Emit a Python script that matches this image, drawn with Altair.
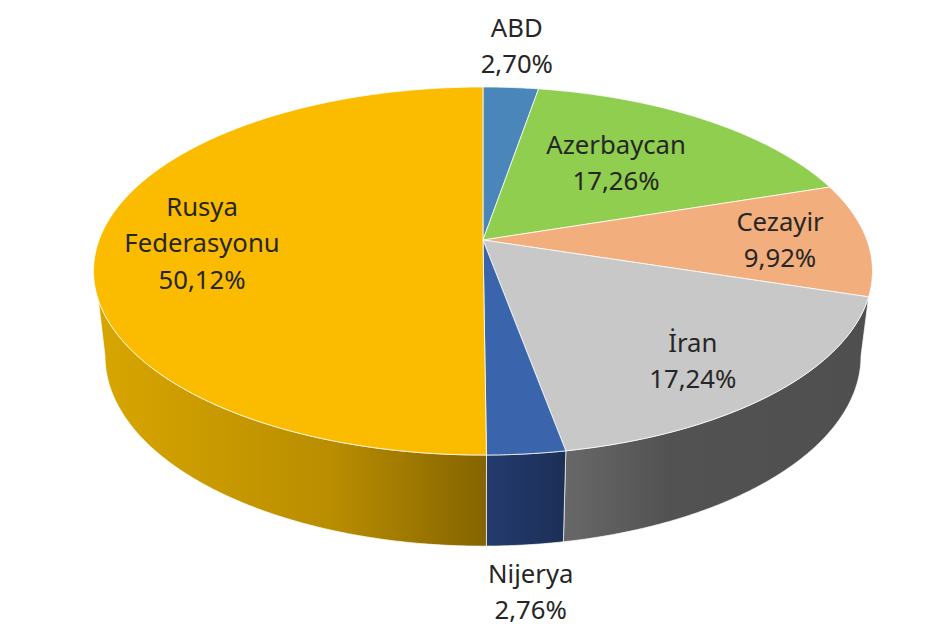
import math
import altair as alt
import pandas as pd

# ---- values
names = ["ABD", "Azerbaycan", "Cezayir", "İran", "Nijerya", "Rusya Federasyonu"]
shares = [2.70, 17.26, 9.92, 17.24, 2.76, 50.12]
share_labels = ["2,70%", "17,26%", "9,92%", "17,24%", "2,76%", "50,12%"]
label_lines = [["ABD"], ["Azerbaycan"], ["Cezayir"], ["İran"], ["Nijerya"], ["Rusya", "Federasyonu"]]
top_colors = ["#4a86b9", "#8fce4f", "#f2ae7d", "#c8c8c8", "#3a65ad", "#fbbc00"]

# ---- layout of the tilted disc (perspective of the top and bottom faces, page pixels)
TOP = dict(cx=483, cy=240, a=383.9, b=178.8, k=0.1685)
BOTTOM = dict(cx=483, cy=324, a=372.6, b=184.7, k=0.1685)
LABEL_RADIUS = [1.324, 0.591, 0.773, 0.784, 1.4845, 0.7295]
LABEL_TURN = [-0.2, -1.6, 0.7, 2.7, 1.8, -1.6]
LINE_STEP = 36.5
FONT = "Noto Sans"
FONT_SIZE = 25.7


def project(face, deg, r=1.0):
    t = math.radians(deg)
    x, y = r * math.sin(t), r * math.cos(t)
    d = 1 + face["k"] * y
    return [face["cx"] + face["a"] * x / d, face["cy"] - face["b"] * y / d]


def arc(face, a0, a1):
    n = max(2, int(abs(a1 - a0) * 2))
    return [project(face, a0 + (a1 - a0) * i / n) for i in range(n + 1)]


def polygon(ring, **props):
    ring = ring + [ring[0]]
    return {"type": "Feature", "properties": props,
            "geometry": {"type": "Polygon", "coordinates": [ring]}}


total = sum(shares)
edges = [0.0]
for s in shares:
    edges.append(edges[-1] + s / total * 360)

# top faces
tops = [polygon([[TOP["cx"], TOP["cy"]]] + arc(TOP, edges[i], edges[i + 1]), name=names[i])
        for i in range(len(names))]


def gradient(stops):
    return alt.LinearGradient(
        gradient="linear", x1=0, x2=1, y1=0, y2=0,
        stops=[alt.GradientStop(offset=o, color=c) for o, c in stops])


def geo(features):
    return alt.InlineData(values={"type": "FeatureCollection", "features": features},
                          format=alt.DataFormat(property="features", type="json"))


wall_specs = [
    # İran: down the slice's front edge, along the bottom rim to the silhouette, back along the top rim
    (polygon(arc(TOP, edges[3], edges[4]) + arc(BOTTOM, edges[4], 99.7), name=names[3]),
     [(0, "#686868"), (0.35, "#525252"), (1, "#4f4f4f")]),
    # Nijerya
    (polygon(arc(TOP, edges[4], edges[5]) + arc(BOTTOM, edges[5], edges[4]), name=names[4]),
     [(0, "#233b6e"), (1, "#1c2f56")]),
    # Rusya Federasyonu
    (polygon(arc(TOP, edges[5], 251.5) + arc(BOTTOM, 260.3, edges[5]), name=names[5]),
     [(0, "#d8a600"), (0.6, "#b98d00"), (1, "#856400")]),
]

walls = [
    alt.Chart(geo([f])).mark_geoshape(fill=gradient(g), stroke="#ffffff", strokeWidth=0.8, strokeOpacity=0.85)
    for f, g in wall_specs
]

top_layer = alt.Chart(geo(tops)).mark_geoshape(stroke="#ffffff", strokeWidth=0.9, strokeOpacity=0.85).encode(
    fill=alt.Fill("properties.name:N", scale=alt.Scale(domain=names, range=top_colors), legend=None)
)

rows = []
for i in range(len(names)):
    mid = (edges[i] + edges[i + 1]) / 2 + LABEL_TURN[i]
    px, py = project(TOP, mid, LABEL_RADIUS[i])
    lines = label_lines[i] + [share_labels[i]]
    for j, txt in enumerate(lines):
        rows.append({"lon": px, "lat": py + (j - (len(lines) - 1) / 2) * LINE_STEP, "txt": txt})

text_layer = alt.Chart(pd.DataFrame(rows)).mark_text(
    font=FONT, fontSize=FONT_SIZE, color="#262626", align="center", baseline="middle"
).encode(longitude="lon:Q", latitude="lat:Q", text="txt:N")

chart = alt.layer(*walls, top_layer, text_layer).properties(
    width=936, height=624,
    padding=0,
    autosize=alt.AutoSizeParams(type="none"),
    background="#ffffff",
    projection=alt.Projection(type="identity", scale=1, translate=[-8, -8]),
).configure_view(stroke=None)

chart.save("out.html", embed_options={"renderer": "svg", "actions": False})
